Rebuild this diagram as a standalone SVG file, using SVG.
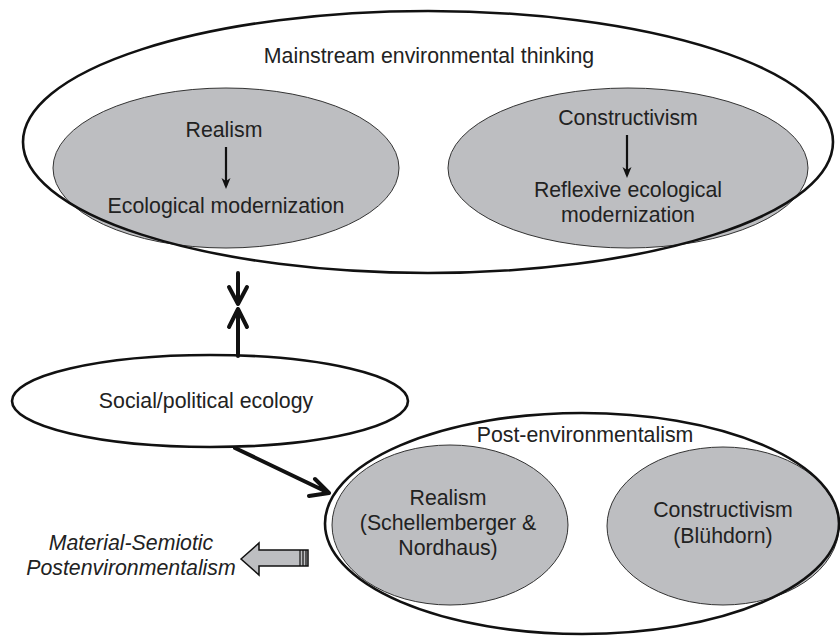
<svg xmlns="http://www.w3.org/2000/svg" width="840" height="636" viewBox="0 0 840 636">
<style>
text{font-family:"Liberation Sans",Arial,sans-serif;font-size:21.3px;fill:#222;text-anchor:middle}
.it{font-style:italic}
.outer{fill:none;stroke:#111;stroke-width:2.6}
.gray{fill:#bdbec1;stroke:#333;stroke-width:1}
.thin{stroke:#111;stroke-width:2.2;fill:none}
.thick{stroke:#111;stroke-width:4;fill:none;stroke-linecap:round;stroke-linejoin:round}
</style>
<rect width="840" height="636" fill="#fff"/>
<g id="realism-top">
<ellipse class="gray" cx="226" cy="168" rx="173" ry="80"/>
<text x="224" y="137">Realism</text>
<text x="226" y="213">Ecological modernization</text>
</g>
<g id="constructivism-top">
<ellipse class="gray" cx="628" cy="168" rx="180" ry="80"/>
<text x="628" y="125">Constructivism</text>
<text x="628" y="197">Reflexive ecological</text>
<text x="628" y="222">modernization</text>
</g>
<g id="mainstream">
<ellipse class="outer" cx="428" cy="142" rx="405" ry="131"/>
<text x="429" y="63">Mainstream environmental thinking</text>
</g>
<g id="social">
<ellipse class="outer" cx="210" cy="401" rx="198" ry="46" fill="#fff"/>
<text x="206" y="408">Social/political ecology</text>
</g>
<g id="realism-post">
<ellipse class="gray" cx="450" cy="525" rx="118" ry="80"/>
<text x="448" y="505">Realism</text>
<text x="448" y="530">(Schellemberger &amp;</text>
<text x="448" y="555">Nordhaus)</text>
</g>
<g id="constructivism-post">
<ellipse class="gray" cx="723" cy="526" rx="116" ry="79"/>
<text x="723" y="517">Constructivism</text>
<text x="723" y="543">(Blühdorn)</text>
</g>
<g id="post">
<ellipse class="outer" cx="582" cy="523.5" rx="257" ry="110.5"/>
<text x="585" y="442">Post-environmentalism</text>
</g>
<g id="material">
<text class="it" x="131" y="550">Material-Semiotic</text>
<text class="it" x="131" y="575">Postenvironmentalism</text>
</g>
<g id="connectors">
<path class="thin" d="M226 147V186"/>
<path d="M221.5 178L226 189L230.5 178L226 181Z" fill="#111"/>
<path class="thin" d="M627 135V175"/>
<path d="M622.5 167L627 178L631.5 167L627 170Z" fill="#111"/>
<path class="thick" d="M238 273V304M229 287L238 304L247 287"/>
<path class="thick" d="M238 356V309M229 327L238 309L247 327"/>
<path class="thick" d="M235 448L329 493M315 479L329 493L309 496"/>
<path d="M241 559L259 543V550H308V566H259V575Z" fill="#bdbec1" stroke="#111" stroke-width="1.5" stroke-linejoin="miter"/>
<path d="M300 550V566M303 550V566M306 550V566" stroke="#111" stroke-width="1.2"/>
</g>
</svg>
